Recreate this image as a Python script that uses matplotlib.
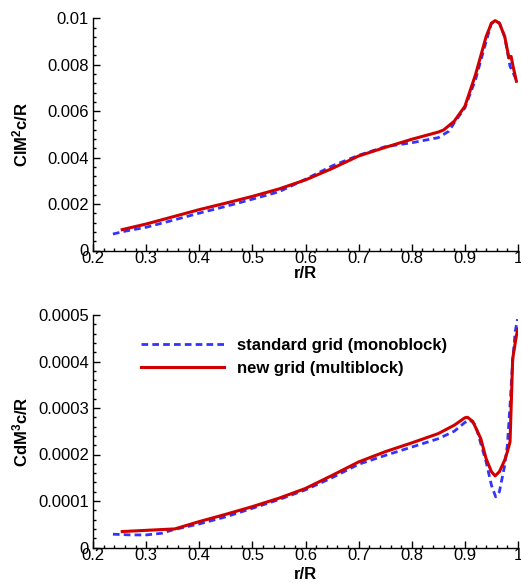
import matplotlib
matplotlib.use("Agg")
import matplotlib.pyplot as plt
from matplotlib.ticker import MultipleLocator, FixedLocator, FixedFormatter

plt.rcParams['font.family'] = ['Liberation Sans', 'DejaVu Sans']
plt.rcParams['mathtext.fontset'] = 'custom'
plt.rcParams['mathtext.rm'] = 'Liberation Sans:bold'
plt.rcParams['mathtext.bf'] = 'Liberation Sans:bold'
plt.rcParams['mathtext.default'] = 'rm'

# ---------------- data ----------------
# top: Cl M^2 c/R
r_std_top = [0.2375, 0.26, 0.3, 0.35, 0.4, 0.45, 0.5, 0.55, 0.6, 0.65, 0.7, 0.75, 0.8,
             0.85, 0.87, 0.88, 0.9, 0.92, 0.94, 0.95, 0.958, 0.965, 0.975, 0.985, 0.99, 0.997]
cl_std = [0.00071, 0.00083, 0.0010, 0.00130, 0.00161, 0.0019, 0.00221, 0.00253, 0.00307,
          0.00364, 0.0041, 0.00447, 0.00464, 0.00486, 0.00514, 0.0055, 0.00614, 0.00736,
          0.0090, 0.00979, 0.00985, 0.0098, 0.0092, 0.00793, 0.0077, 0.00733]

r_new_top = [0.255, 0.3, 0.35, 0.4, 0.45, 0.5, 0.55, 0.6, 0.65, 0.7, 0.75, 0.8, 0.85, 0.86,
             0.88, 0.9, 0.92, 0.94, 0.95, 0.957, 0.965, 0.975, 0.983, 0.987, 0.991, 0.997]
cl_new = [0.0009, 0.00114, 0.00145, 0.00176, 0.00204, 0.00233, 0.00265, 0.00304, 0.00353,
          0.00407, 0.00444, 0.00479, 0.0051, 0.00519, 0.00557, 0.00621, 0.00757, 0.00921,
          0.00979, 0.0099, 0.00979, 0.00921, 0.00829, 0.00836, 0.0079, 0.00729]

# bottom: Cd M^3 c/R
r_std_bot = [0.2375, 0.27, 0.3, 0.33, 0.35, 0.4, 0.45, 0.5, 0.55, 0.6, 0.65, 0.7, 0.75, 0.8,
             0.85, 0.88, 0.9, 0.91, 0.92, 0.94, 0.95, 0.958, 0.965, 0.975, 0.98, 0.985,
             0.99, 0.995, 0.999]
cd_std = [2.86e-5, 2.71e-5, 2.7e-5, 3.07e-5, 3.79e-5, 5.07e-5, 6.6e-5, 8.43e-5, 1.03e-4,
          1.24e-4, 1.5e-4, 1.79e-4, 1.98e-4, 2.16e-4, 2.34e-4, 2.5e-4, 2.69e-4, 2.74e-4,
          2.63e-4, 1.84e-4, 1.34e-4, 1.09e-4, 1.2e-4, 1.77e-4, 2.2e-4, 3.06e-4, 4.02e-4,
          4.66e-4, 4.91e-4]

r_new_bot = [0.255, 0.354, 0.4, 0.45, 0.5, 0.55, 0.6, 0.65, 0.7, 0.75, 0.8, 0.85, 0.88, 0.9,
             0.905, 0.915, 0.93, 0.94, 0.95, 0.957, 0.965, 0.975, 0.98, 0.985, 0.99, 0.997, 1.0]
cd_new = [3.43e-5, 4.0e-5, 5.57e-5, 7.14e-5, 8.79e-5, 1.06e-4, 1.27e-4, 1.55e-4, 1.84e-4,
          2.06e-4, 2.25e-4, 2.45e-4, 2.63e-4, 2.79e-4, 2.8e-4, 2.71e-4, 2.34e-4, 1.91e-4,
          1.63e-4, 1.54e-4, 1.63e-4, 1.88e-4, 2.06e-4, 2.27e-4, 4.06e-4, 4.56e-4, 4.7e-4]

x_ticks = [0.2, 0.3, 0.4, 0.5, 0.6, 0.7, 0.8, 0.9, 1.0]
x_tick_labels = ['0.2', '0.3', '0.4', '0.5', '0.6', '0.7', '0.8', '0.9', '1']
y_top_ticks = [0, 0.002, 0.004, 0.006, 0.008, 0.01]
y_top_labels = ['0', '0.002', '0.004', '0.006', '0.008', '0.01']
y_bot_ticks = [0, 0.0001, 0.0002, 0.0003, 0.0004, 0.0005]
y_bot_labels = ['0', '0.0001', '0.0002', '0.0003', '0.0004', '0.0005']

label_std = 'standard grid (monoblock)'
label_new = 'new grid (multiblock)'

BLUE = '#3333ff'
RED = '#d00000'

W, H = 521, 585
fig = plt.figure(figsize=(W / 100, H / 100), dpi=100)

def px_axes(left, top, right, bottom):
    return fig.add_axes([left / W, 1 - bottom / H, (right - left) / W, (bottom - top) / H])

ax1 = px_axes(93, 18.3, 518, 250.5)
ax2 = px_axes(93, 315, 518, 547.5)

def style(ax, yticks, ylabels, yminor, ylabel, xlab_y, ylab_x):
    ax.set_xlim(0.2, 1.0)
    ax.set_ylim(yticks[0], yticks[-1])
    ax.xaxis.set_major_locator(FixedLocator(x_ticks))
    ax.xaxis.set_major_formatter(FixedFormatter(x_tick_labels))
    ax.xaxis.set_minor_locator(MultipleLocator(0.02))
    ax.yaxis.set_major_locator(FixedLocator(yticks))
    ax.yaxis.set_major_formatter(FixedFormatter(ylabels))
    ax.yaxis.set_minor_locator(MultipleLocator(yminor))
    for s in ['top', 'right']:
        ax.spines[s].set_visible(False)
    for s in ['left', 'bottom']:
        ax.spines[s].set_linewidth(1.0)
    ax.tick_params(which='both', direction='in', width=1.0, labelsize=12)
    ax.tick_params(which='major', length=5)
    ax.tick_params(which='minor', length=2.5)
    ax.tick_params(axis='x', pad=0.5)
    ax.tick_params(axis='y', pad=3)
    ax.set_xlabel('r/R', fontsize=12, fontweight='bold')
    ax.xaxis.set_label_coords(0.5, xlab_y)
    ax.set_ylabel(ylabel, fontsize=12, fontweight='bold')
    ax.yaxis.set_label_coords(ylab_x, 0.5)

ax1.plot(r_std_top, cl_std, color=BLUE, lw=2.0, dashes=[2.4, 1.5], label=label_std)
ax1.plot(r_new_top, cl_new, color=RED, lw=2.2, label=label_new)
style(ax1, y_top_ticks, y_top_labels, 0.0004, r'ClM$^{2}$c/R', -0.068, -0.147)

ax2.plot(r_std_bot, cd_std, color=BLUE, lw=2.0, dashes=[2.4, 1.5], label=label_std)
ax2.plot(r_new_bot, cd_new, color=RED, lw=2.2, label=label_new)
style(ax2, y_bot_ticks, y_bot_labels, 0.00002, r'CdM$^{3}$c/R', -0.085, -0.147)

ax2.legend(loc='upper left', bbox_to_anchor=(0.112, 0.90), frameon=False,
           borderpad=0, borderaxespad=0, handlelength=5.0, handletextpad=0.8,
           labelspacing=0.45, prop={'weight': 'bold', 'size': 12})

fig.savefig('out.png', dpi=100)
